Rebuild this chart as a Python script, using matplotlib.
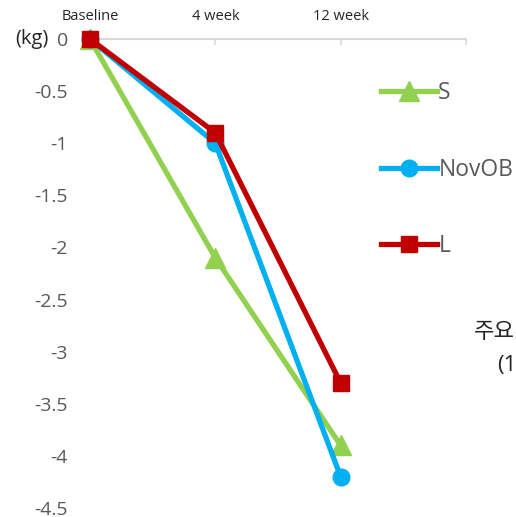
import matplotlib.pyplot as plt

# Weight change from baseline (kg) per group
timepoints = ["Baseline", "4 week", "12 week"]
s_values = [0, -2.1, -3.9]
novob_values = [0, -1.0, -4.2]
l_values = [0, -0.9, -3.3]
y_ticks = [0, -0.5, -1, -1.5, -2, -2.5, -3, -3.5, -4, -4.5]
y_tick_labels = ["0", "-0.5", "-1", "-1.5", "-2", "-2.5", "-3", "-3.5", "-4", "-4.5"]

plt.rcParams["font.family"] = ["Open Sans", "Noto Sans CJK KR", "DejaVu Sans"]

fig = plt.figure(figsize=(5.16, 5.17), dpi=100)
ax = fig.add_axes([90 / 516, 9 / 517, 376 / 516, 469 / 517])

x = list(range(len(timepoints)))
ax.plot(x, s_values, color="#92D050", lw=3.8, marker="^", ms=14,
        label="S", clip_on=False, zorder=3)
ax.plot(x, novob_values, color="#00B0F0", lw=3.8, marker="o", ms=12,
        label="NovOB", clip_on=False, zorder=4)
ax.plot(x, l_values, color="#C00000", lw=3.8, marker="s", ms=12,
        label="L", clip_on=False, zorder=5)

ax.set_xlim(0, 3)
ax.set_ylim(-4.5, 0)

ax.xaxis.tick_top()
ax.set_xticks([0, 1, 2, 3])
ax.set_xticklabels(timepoints + [""])
ax.tick_params(axis="x", direction="in", length=4, width=1.2, color="#D9D9D9",
               pad=11, labelsize=10.5, labelcolor="#262626")

ax.set_yticks(y_ticks)
ax.set_yticklabels(y_tick_labels, va="center_baseline")
ax.tick_params(axis="y", length=0, pad=16, labelsize=14, labelcolor="#595959")

for side in ["left", "right", "bottom"]:
    ax.spines[side].set_visible(False)
ax.spines["top"].set_color("#D9D9D9")
ax.spines["top"].set_linewidth(1.5)

fig.text(15 / 516, 1 - 39 / 517, "(kg)", fontsize=14.5, color="#262626",
         ha="left", va="center")

ax.legend(loc="upper left", bbox_to_anchor=(381 / 516, 1 - 81 / 517),
          bbox_transform=fig.transFigure, frameon=False, fontsize=16.5,
          labelspacing=2.3, handlelength=2.45, handletextpad=0.05,
          labelcolor="#595959", borderpad=0, borderaxespad=0)

fig.text(474 / 516, 1 - 333 / 517, "주요", fontsize=16, color="#262626",
         ha="left", va="center")
fig.text(497 / 516, 1 - 366 / 517, "(1", fontsize=16, color="#262626",
         ha="left", va="center")

fig.savefig("out.png", dpi=100)
